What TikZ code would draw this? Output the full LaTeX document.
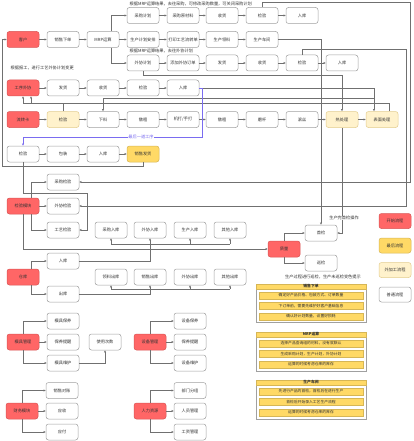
\documentclass[tikz,border=0pt]{standalone}
\usepackage{fontspec}
\setmainfont{Noto Sans CJK SC}
\usetikzlibrary{arrows.meta}
\definecolor{bx}{HTML}{A0A0A0}
\definecolor{redf}{HTML}{FF6666}
\definecolor{redd}{HTML}{D95555}
\definecolor{yelf}{HTML}{FFD966}
\definecolor{yeld}{HTML}{D6B656}
\definecolor{ltf}{HTML}{FFF2CC}
\definecolor{ltd}{HTML}{E3CD8E}
\definecolor{lc}{HTML}{707070}
\definecolor{txt}{HTML}{333333}
\definecolor{purc}{HTML}{7A6CF0}
\tikzset{
 base/.style={draw=bx, rounded corners=2.5pt, minimum width=32pt, minimum height=16pt, inner sep=0pt, line width=0.5pt, font=\fontsize{4.2}{5}\selectfont, text=txt},
 wb/.style={base, fill=white},
 rb/.style={base, fill=redf, draw=redd},
 yb/.style={base, fill=yelf, draw=yeld},
 lb/.style={base, fill=ltf, draw=ltd},
 ln/.style={draw=lc, line width=0.45pt},
 arr/.style={ln, -{Triangle[length=2.2pt,width=2pt]}},
 pur/.style={draw=purc, line width=0.5pt, -{Triangle[length=2.2pt,width=2pt]}},
 note/.style={font=\fontsize{4.2}{5}\selectfont, text=txt, inner sep=0.5pt},
 pframe/.style={draw=bx, fill=white, line width=0.5pt, minimum width=110pt, inner sep=0pt},
 ptitle/.style={draw=yeld, fill=yelf, line width=0.4pt, minimum width=110pt, minimum height=5.5pt, inner sep=0pt, font=\fontsize{3.8}{4}\selectfont\bfseries, text=txt},
 prow/.style={draw=yeld, fill=yelf, line width=0.4pt, minimum width=104pt, minimum height=7pt, inner sep=0pt, font=\fontsize{3.8}{4}\selectfont, text=txt},
}
\begin{document}
\begin{tikzpicture}[x=1pt,y=-1pt]
\useasboundingbox[fill=white] (0,0) rectangle (414,441);

% ---------- notes ----------
\node[note, anchor=west] (n1) at (129,4) {根据MRP运算结果，去往采购，可修改采购数量，可关闭采购计划};
\node[note, anchor=west] (n2) at (129,51) {根据MRP运算结果，去往外协计划};
\node[note, anchor=west] (n3) at (10,68) {根据报工，进行工艺外协计划变更};

% ---------- row A ----------
\node[wb] (a1) at (143,15.5) {采购计划};
\node[wb] (a2) at (183,15.5) {采购原材料};
\node[wb] (a3) at (222,15.5) {收货};
\node[wb] (a4) at (262,15.5) {检验};
\node[wb] (a5) at (302,15.5) {入库};
% ---------- row B ----------
\node[rb] (b1) at (23,39.5) {客户};
\node[wb] (b2) at (63,39.5) {销售下单};
\node[wb] (b3) at (103,39.5) {MRP运算};
\node[wb] (b4) at (143,39.5) {生产计划安排};
\node[wb] (b5) at (183,39.5) {打印工艺流转单};
\node[wb] (b6) at (222,39.5) {生产领料};
\node[wb] (b7) at (262,39.5) {生产车间};
% ---------- row C ----------
\node[wb] (c1) at (143,63) {外协计划};
\node[wb] (c2) at (183,63) {添加外协订单};
\node[wb] (c3) at (222,63) {发货};
\node[wb] (c4) at (262,63) {收货};
\node[wb] (c5) at (302,63) {检验};
\node[wb] (c6) at (342,63) {入库};
% ---------- row D ----------
\node[rb] (d1) at (23,88) {工序外协};
\node[wb] (d2) at (63,88) {发货};
\node[wb] (d3) at (103,88) {收货};
\node[wb] (d4) at (143,88) {检验};
\node[wb] (d5) at (183,88) {入库};
% ---------- row E ----------
\node[rb] (e1) at (23,119.5) {流转卡};
\node[lb] (e2) at (63,119.5) {检验};
\node[wb] (e3) at (103,119.5) {下料};
\node[wb] (e4) at (143,119.5) {镦粗};
\node[wb] (e5) at (183,119.5) {机打/手打};
\node[wb] (e6) at (222,119.5) {镦粗};
\node[wb] (e7) at (262,119.5) {磨杆};
\node[wb] (e8) at (302,119.5) {滚丝};
\node[lb] (e9) at (342,119.5) {热处理};
\node[lb] (e10) at (382,119.5) {表面处理};
% ---------- row F ----------
\node[wb] (f1) at (23,154) {检验};
\node[wb] (f2) at (63,154) {包装};
\node[wb] (f3) at (103,154) {入库};
\node[yb] (f4) at (143,154) {销售发货};

% ---------- inspection module ----------
\node[rb] (g0) at (23,206) {检验模块};
\node[wb] (g1) at (63,182) {采购检验};
\node[wb] (g2) at (63,206) {外协检验};
\node[wb] (g3) at (63,230) {工艺检验};

% ---------- warehouse ----------
\node[rb] (w0) at (23,277) {仓库};
\node[wb] (w1) at (63,261) {入库};
\node[wb] (w2) at (63,294) {出库};
\node[wb] (i1) at (111,230) {采购入库};
\node[wb] (i2) at (150,230) {外协入库};
\node[wb] (i3) at (190,230) {生产入库};
\node[wb] (i4) at (230,230) {其他入库};
\node[wb] (o1) at (111,277) {领料出库};
\node[wb] (o2) at (150,277) {销售出库};
\node[wb] (o3) at (190,277) {外协出库};
\node[wb] (o4) at (230,277) {其他出库};

% ---------- quality ----------
\node[rb] (q0) at (284,249) {质量};
\node[wb] (q1) at (321,233) {首检};
\node[wb] (q2) at (321,263) {巡检};

% ---------- legend ----------
\node[rb, minimum height=15pt] (l1) at (395,221) {开始流程};
\node[yb, minimum height=15pt] (l2) at (395,245.5) {最后流程};
\node[lb, minimum height=15pt] (l3) at (395,270) {外加工流程};
\node[wb, minimum height=15pt] (l4) at (395,294.5) {普通流程};

% ---------- mould ----------
\node[rb] (m0) at (23,342) {模具管理};
\node[wb] (m1) at (63,321) {模具保养};
\node[wb] (m2) at (63,342) {保养提醒};
\node[wb] (m3) at (63,363) {模具维护};
\node[wb] (m4) at (105,342) {使用次数};
% ---------- equipment ----------
\node[rb] (s0) at (150,342) {设备管理};
\node[wb] (s1) at (190,321) {设备保养};
\node[wb] (s2) at (190,342) {保养提醒};
\node[wb] (s3) at (190,363) {设备维护};
% ---------- finance ----------
\node[rb] (k0) at (22,411) {财务模块};
\node[wb] (k1) at (62,390.5) {销售对账};
\node[wb] (k2) at (62,411) {应收};
\node[wb] (k3) at (62,432) {应付};
% ---------- HR ----------
\node[rb] (h0) at (150,411) {人力资源};
\node[wb] (h1) at (190,390.5) {部门分组};
\node[wb] (h2) at (190,411) {人员管理};
\node[wb] (h3) at (190,432) {工资管理};

% ---------- connectors: upper ----------
\draw[arr] (b1) -- (b2);
\draw[arr] (b2) -- (b3);
\draw[arr] (b3) -- (b4);
\draw[arr] ([xshift=8pt]b3.north) |- (a1.west);
\draw[arr] ([xshift=8pt]b3.south) |- (c1.west);
\draw[arr] (a1) -- (a2);
\draw[arr] (a2) -- (a3);
\draw[arr] (a3) -- (a4);
\draw[arr] (a4) -- (a5);
\draw[arr] (b4) -- (b5);
\draw[arr] (b5) -- (b6);
\draw[arr] (b6) -- (b7);
\draw[arr] (c1) -- (c2);
\draw[arr] (c2) -- (c3);
\draw[arr] (c3) -- (c4);
\draw[arr] (c4) -- (c5);
\draw[arr] (c5) -- (c6);
\draw[arr] (d1) -- (d2);
\draw[arr] (d2) -- (d3);
\draw[arr] (d3) -- (d4);
\draw[arr] (d4) -- (d5);
\draw[arr] (e1) -- (e2);
\draw[arr] (e2) -- (e3);
\draw[arr] (e3) -- (e4);
\draw[arr] (e4) -- (e5);
\draw[arr] (e5) -- (e6);
\draw[arr] (e6) -- (e7);
\draw[arr] (e7) -- (e8);
\draw[arr] (e8) -- (e9);
\draw[arr] (e9) -- (e10);
\draw[arr] (f1) -- (f2);
\draw[arr] (f2) -- (f3);
\draw[arr] (f3) -- (f4);

% back to customer
\draw[arr] (f4.south) |- (2,166) |- (b1.west);

% process outsourcing loops
\coordinate (jx) at (374,98);
\draw[arr] (c1.south) |- (342,75) -- (e9.north);
\draw[arr] (d5.east) -| ([xshift=-8pt]e10.north);
\draw[arr] (jx) -| (e3.north);
\draw[arr] ([xshift=7pt]e10.north) |- (23,103) -- (d1.south);
\draw[arr] (e2.north) |- (31,103) -- ([xshift=8pt]d1.south);

% last process (purple)
\draw[pur] (d5.east) -- (202,88) -- (202,137) -| (f1.north);
\node[note, fill=white, text=purc] (lp) at (141,137) {最后一道工序};

% production workshop -> first inspection
\draw[arr] (b7.east) -| (q1.north);
\draw[arr] (e9.south) |- (q1.east);
\node[note, fill=white] (n4) at (344,218) {生产完首检操作};

% inspection lines from the top
\draw[arr] (a4.north) -- (262,2) -- (410,2) |- (g1.east);
\draw[arr] (c5.north) -- (302,49) -- (406,49) |- (g2.east);

% inspection module
\draw[arr] ([xshift=8pt]g0.north) |- (g1.west);
\draw[arr] (g0.east) -- (g2.west);
\draw[arr] ([xshift=8pt]g0.south) |- (g3.west);
\draw[arr] (f1.south) |- (87,193) |- (g3.east);
\draw[arr] (g0.south) |- (q0.west);

% warehouse
\draw[arr] ([xshift=8pt]w0.north) |- (w1.west);
\draw[arr] ([xshift=8pt]w0.south) |- (w2.west);
\draw[ln] (w1.east) -| (150,244);
\draw[ln] (111,244) -- (230,244);
\draw[arr] (111,244) -- (i1.south);
\draw[arr] (150,244) -- (i2.south);
\draw[arr] (190,244) -- (i3.south);
\draw[arr] (230,244) -- (i4.south);
\draw[ln] (w2.east) -| (150,289);
\draw[ln] (111,289) -- (230,289);
\draw[arr] (111,289) -- (o1.south);
\draw[arr] (150,289) -- (o2.south);
\draw[arr] (190,289) -- (o3.south);
\draw[arr] (230,289) -- (o4.south);

% quality
\draw[arr] (q0.north) |- (q1.west);
\draw[arr] (q0.south) |- (q2.west);
\node[note] (n5) at (323,277) {生产过程进行巡检，生产未巡检变色提示};

% mould
\draw[arr] (m0.north) |- (m1.west);
\draw[arr] (m0) -- (m2);
\draw[arr] (m0.south) |- (m3.west);
\draw[arr] (m3.east) -| (m4.south);
% equipment
\draw[arr] (s0.north) |- (s1.west);
\draw[arr] (s0) -- (s2);
\draw[arr] (s0.south) |- (s3.west);
% finance
\draw[arr] (k0.north) |- (k1.west);
\draw[arr] (k0) -- (k2);
\draw[arr] (k0.south) |- (k3.west);
% HR
\draw[arr] (h0.north) |- (h1.west);
\draw[arr] (h0) -- (h2);
\draw[arr] (h0.south) |- (h3.west);

% ---------- panels ----------
\node[pframe, minimum height=38pt] (p1) at (311,303) {};
\node[ptitle] (p1t) at (311,286.5) {销售下单};
\node[prow] (p1a) at (311,295.5) {确定好产品价格、包装方式、订单数量};
\node[prow] (p1b) at (311,306) {下订单前，需要先维护好客户基础信息};
\node[prow] (p1c) at (311,316.5) {确认好计划数量，设置好损耗};

\node[pframe, minimum height=39pt] (p2) at (311,351.5) {};
\node[ptitle] (p2t) at (311,334.5) {MRP运算};
\node[prow] (p2a) at (311,343.5) {选择产品查询组的材料，没有就默认};
\node[prow] (p2b) at (311,354) {生成采购计划，生产计划，外协计划};
\node[prow] (p2c) at (311,364.5) {运算的时候考虑仓库的库存};

\node[pframe, minimum height=39pt] (p3) at (311,399.5) {};
\node[ptitle] (p3t) at (311,382.5) {生产车间};
\node[prow] (p3a) at (311,391.5) {先进行产品的首检，首检后在进行生产};
\node[prow] (p3b) at (311,402) {首检后开始录入工艺生产流程};
\node[prow] (p3c) at (311,412.5) {运算的时候考虑仓库的库存};
\end{tikzpicture}
\end{document}
